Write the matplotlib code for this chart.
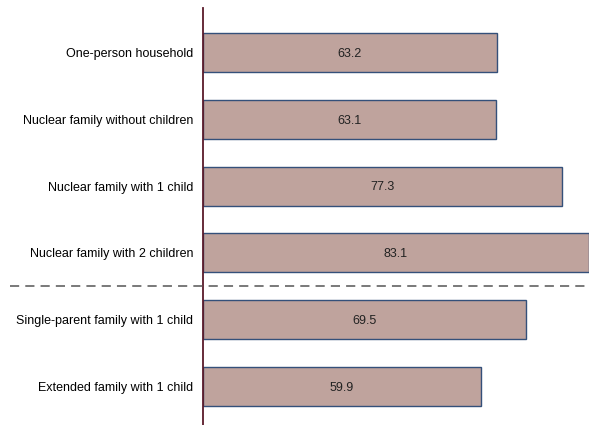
import matplotlib
matplotlib.use('Agg')
import matplotlib.pyplot as plt
from matplotlib.lines import Line2D
from matplotlib.transforms import blended_transform_factory

plt.rcParams['font.family'] = ['Liberation Sans', 'DejaVu Sans']

categories = [
    'One-person household',
    'Nuclear family without children',
    'Nuclear family with 1 child',
    'Nuclear family with 2 children',
    'Single-parent family with 1 child',
    'Extended family with 1 child',
]
values = [63.2, 63.1, 77.3, 83.1, 69.5, 59.9]
value_labels = ['63.2', '63.1', '77.3', '83.1', '69.5', '59.9']

fig = plt.figure(figsize=(5.89, 4.25), dpi=100)
ax = fig.add_axes([203 / 589, 0, 386 / 589, 417 / 425])

ypos = list(range(len(categories)))
ax.barh(ypos, values, height=0.585, color='#BFA39D', edgecolor='#34507A', linewidth=1.0)

for y, v, lab in zip(ypos, values, value_labels):
    ax.text(v / 2, y + 0.02, lab, ha='center', va='center', fontsize=9, color='#222222')

ax.set_xlim(0, 83.1)
ax.set_ylim(5.576, -0.666)
ax.set_yticks(ypos)
ax.set_yticklabels(categories, fontsize=9)
ax.tick_params(axis='y', length=0, pad=7)
ax.set_xticks([])

for side in ['top', 'right', 'bottom']:
    ax.spines[side].set_visible(False)
ax.spines['left'].set_color('#5A1A2A')
ax.spines['left'].set_linewidth(1.3)

# separator between nuclear families and the rest
tr = blended_transform_factory(fig.transFigure, ax.transData)
fig.add_artist(Line2D([10 / 589, 585 / 589], [3.5, 3.5], transform=tr,
                      color='#555555', linestyle=(0, (6, 4)), linewidth=1.1))

fig.savefig('out.png', dpi=100)
